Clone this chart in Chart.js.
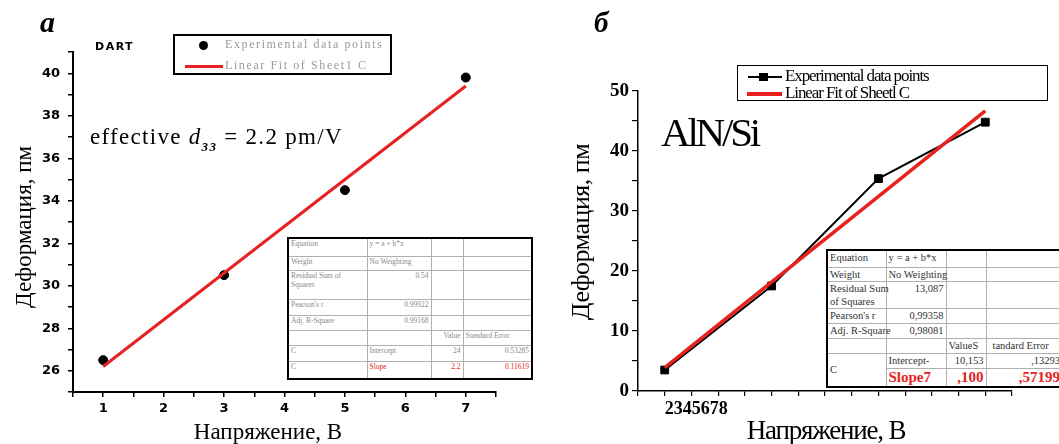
<!DOCTYPE html>
<html>
<head>
<meta charset="utf-8">
<script src="https://cdn.jsdelivr.net/npm/chart.js@4.4.1/dist/chart.umd.min.js"></script>
<style>
body { margin: 0; background: #fff; }
#wrap { position: relative; width: 1059px; height: 444px; overflow: hidden; font-family: "Liberation Serif", serif; color: #000; }
canvas { position: absolute; top: 0; }
.t { position: absolute; white-space: nowrap; line-height: 1; z-index: 2; }
.c { transform: translate(-50%, -50%); }
.rot { transform: translate(-50%, -50%) rotate(-90deg); }
.box { position: absolute; box-sizing: border-box; border: 2px solid #000; background: #fff; z-index: 2; }
.tab { position: absolute; border-collapse: collapse; table-layout: fixed; background: #fff; z-index: 2; }
.tab td { border: 1px solid #b0b0b0; padding: 0 2px; vertical-align: top; white-space: nowrap; overflow: visible; }
.tab td.r { text-align: right; }
#tabA { left: 287px; top: 237px; width: 244px; border: 2px solid #000; font-size: 7.5px; line-height: 9px; color: #8a8a8a; }
#tabA .red td.k { color: #e82020; }
#tabB { left: 826px; top: 249px; width: 236px; border: 2px solid #000; font-size: 10.5px; line-height: 13px; color: #333; }
#tabB .red { color: #e82020; font-weight: bold; font-size: 15px; line-height: 17px; }
</style>
</head>
<body>
<div id="wrap">
<canvas id="chartA" width="540" height="444" style="left:0"></canvas>
<canvas id="chartB" width="519" height="444" style="left:540px"></canvas>

<!-- panel a -->
<div class="t" style="left:40px;top:7px;font-size:30px;font-weight:bold;font-style:italic;">a</div>
<div class="t" style="left:95px;top:41px;font-family:'DejaVu Sans';font-size:11px;font-weight:bold;letter-spacing:1.5px;">DART</div>
<div class="box" style="left:173px;top:34px;width:219px;height:41px;"></div>
<div class="t" style="left:198.5px;top:40.5px;width:9.5px;height:9.5px;border-radius:50%;background:#000;"></div>
<div class="t" style="left:225px;top:38px;font-size:12px;letter-spacing:1.6px;color:#9a9a9a;">Experimental data points</div>
<div class="t" style="left:185px;top:64.5px;width:38px;height:3px;background:#e82020;"></div>
<div class="t" style="left:225px;top:59px;font-size:12px;letter-spacing:1.6px;color:#9a9a9a;">Linear Fit of Sheet1 C</div>
<div class="t" style="left:90px;top:125px;font-size:23px;letter-spacing:1.3px;">effective <i>d</i><sub style="font-size:13px;font-weight:bold;font-style:italic;vertical-align:-7px;">33</sub> = 2.2 pm/V</div>
<div class="t rot" style="left:23px;top:227px;font-size:23px;">Деформация, пм</div>
<div class="t c" style="left:268px;top:431px;font-size:23px;">Напряжение, В</div>

<table id="tabA" class="tab">
<colgroup><col style="width:79px"><col style="width:64px"><col style="width:32px"><col style="width:69px"></colgroup>
<tr style="height:18px"><td>Equation</td><td>y = a + b*x</td><td></td><td></td></tr>
<tr style="height:14px"><td>Weight</td><td>No Weighting</td><td></td><td></td></tr>
<tr style="height:29px"><td>Residual Sum of<br>Squares</td><td class="r">0.54</td><td></td><td></td></tr>
<tr style="height:16px"><td>Pearson's r</td><td class="r">0.99922</td><td></td><td></td></tr>
<tr style="height:15px"><td>Adj. R-Square</td><td class="r">0.99168</td><td></td><td></td></tr>
<tr style="height:15px"><td></td><td></td><td class="r">Value</td><td>Standard Error</td></tr>
<tr style="height:16px"><td>C</td><td>Intercept</td><td class="r">24</td><td class="r">0.53285</td></tr>
<tr style="height:18px" class="red"><td>C</td><td class="k">Slope</td><td class="r k">2.2</td><td class="r k">0.11619</td></tr>
</table>

<!-- panel b -->
<div class="t" style="left:594px;top:8px;font-size:29px;font-weight:bold;font-style:italic;">б</div>
<div class="box" style="left:737px;top:65px;width:311px;height:36px;border-width:1.5px;"></div>
<div class="t" style="left:748px;top:75.7px;width:34px;height:2px;background:#000;"></div>
<div class="t" style="left:759px;top:72.5px;width:8.5px;height:8.5px;background:#000;"></div>
<div class="t" style="left:785px;top:67px;font-size:17px;letter-spacing:-1.1px;">Experimental data points</div>
<div class="t" style="left:747px;top:92.3px;width:35px;height:4px;background:#e82020;"></div>
<div class="t" style="left:785px;top:84px;font-size:17px;letter-spacing:-1.1px;">Linear Fit of Sheetl C</div>
<div class="t" style="left:661px;top:112px;font-size:41px;letter-spacing:-3.2px;">AlN/Si</div>
<div class="t rot" style="left:581px;top:232px;font-size:26px;letter-spacing:-0.5px;">Деформация, пм</div>
<div class="t c" style="left:826px;top:430px;font-size:27px;letter-spacing:-1.2px;">Напряжение, В</div>

<table id="tabB" class="tab">
<colgroup><col style="width:59px"><col style="width:60px"><col style="width:40px"><col style="width:77px"></colgroup>
<tr style="height:17px"><td>Equation</td><td>y = a + b*x</td><td></td><td></td></tr>
<tr style="height:13px"><td>Weight</td><td>No Weighting</td><td></td><td></td></tr>
<tr style="height:27px"><td>Residual Sum<br>of Squares</td><td class="r">13,087</td><td></td><td></td></tr>
<tr style="height:15px"><td>Pearson's r</td><td class="r">0,99358</td><td></td><td></td></tr>
<tr style="height:15px"><td>Adj. R-Square</td><td class="r">0,98081</td><td></td><td></td></tr>
<tr style="height:15px"><td></td><td></td><td>ValueS</td><td style="padding-left:6px">tandard Error</td></tr>
<tr style="height:15px"><td rowspan="2" style="vertical-align:middle">C</td><td>Intercept-</td><td class="r">10,153</td><td class="r">,13293</td></tr>
<tr style="height:18px" class="red"><td>Slope7</td><td class="r">,100</td><td class="r">,57199</td></tr>
</table>
</div>

<script>
// panel a: DART
const voltA = [1, 3, 5, 7];
const defA = [26.5, 30.5, 34.5, 39.8];
const fitVoltA = [1, 7];
const fitDefA = [26.2, 39.4];
const xTicksA = [1, 2, 3, 4, 5, 6, 7];
const yTicksA = [26, 28, 30, 32, 34, 36, 38, 40];

// panel b: AlN/Si
const voltB = [1, 3, 5, 7];
const defB = [3.5, 17.5, 35.4, 44.8];
const fitVoltB = [1, 7];
const fitDefB = [3.9, 46.7];
const xTickLabelB = '2345678';
const yTicksB = [0, 10, 20, 30, 40, 50];

const red = '#e82020';
const pts = (xs, ys) => xs.map((x, i) => ({ x: x, y: ys[i] }));
const near = (arr, v) => arr.some(a => Math.abs(a - v) < 1e-6);

function axis(opts) {
    return Object.assign({
        type: 'linear',
        grid: { drawOnChartArea: false, drawTicks: true, color: '#000', lineWidth: 1.5 },
        border: { display: true, color: '#000', width: 2 },
    }, opts);
}

new Chart(document.getElementById('chartA'), {
    type: 'scatter',
    data: {
        datasets: [
            { type: 'line', data: pts(fitVoltA, fitDefA), borderColor: red, borderWidth: 3, pointRadius: 0, fill: false },
            { data: pts(voltA, defA), backgroundColor: '#000', borderColor: '#000', pointRadius: 4.5, showLine: false },
        ],
    },
    options: {
        responsive: false,
        animation: false,
        layout: { padding: { top: 52, right: 44, left: 0, bottom: 0 } },
        plugins: { legend: { display: false }, tooltip: { enabled: false } },
        scales: {
            x: axis({
                min: 0.5, max: 7.5,
                afterFit: s => { s.height = 52; },
                grid: { drawOnChartArea: false, color: '#000', lineWidth: 1.5, tickLength: 5 },
                ticks: {
                    stepSize: 0.5, autoSkip: false, maxRotation: 0, minRotation: 0, padding: 4,
                    color: '#000', font: { family: 'DejaVu Sans', size: 13, weight: 'bold' },
                    callback: v => near(xTicksA, v) ? String(Math.round(v)) : '',
                },
            }),
            y: axis({
                min: 25, max: 41,
                afterFit: s => { s.width = 73; },
                grid: { drawOnChartArea: false, color: '#000', lineWidth: 1.5, tickLength: 5 },
                ticks: {
                    stepSize: 1, autoSkip: false, padding: 8,
                    color: '#000', font: { family: 'DejaVu Sans', size: 13, weight: 'bold' },
                    callback: v => near(yTicksA, v) ? String(v) : '',
                },
            }),
        },
    },
});

new Chart(document.getElementById('chartB'), {
    type: 'scatter',
    data: {
        datasets: [
            { type: 'line', data: pts(fitVoltB, fitDefB), borderColor: red, borderWidth: 3.5, pointRadius: 0, fill: false },
            { type: 'line', data: pts(voltB, defB), borderColor: '#000', borderWidth: 2, backgroundColor: '#000',
              pointStyle: 'rect', pointRadius: 5.5, pointBorderWidth: 1, fill: false },
        ],
    },
    options: {
        responsive: false,
        animation: false,
        layout: { padding: { top: 91, right: 47, left: 0, bottom: 0 } },
        plugins: { legend: { display: false }, tooltip: { enabled: false } },
        scales: {
            x: axis({
                min: 0.5, max: 7.5,
                afterFit: s => { s.height = 53; },
                border: { display: true, color: '#000', width: 1.5 },
                grid: { drawOnChartArea: false, color: '#000', lineWidth: 1.2, tickLength: 5 },
                ticks: {
                    stepSize: 0.5, autoSkip: false, maxRotation: 0, minRotation: 0, padding: 3, align: 'start',
                    color: '#000', font: { family: 'Liberation Serif', size: 18, weight: 'bold' },
                    callback: v => Math.abs(v - 1) < 1e-6 ? xTickLabelB : '',
                },
            }),
            y: axis({
                min: 0, max: 50,
                afterFit: s => { s.width = 98; },
                border: { display: true, color: '#000', width: 1.5 },
                grid: { drawOnChartArea: false, color: '#000', lineWidth: 1.2, tickLength: 6 },
                ticks: {
                    stepSize: 5, autoSkip: false, padding: 3,
                    color: '#000', font: { family: 'Liberation Serif', size: 19, weight: 'bold' },
                    callback: v => near(yTicksB, v) ? String(v) : '',
                },
            }),
        },
    },
});
</script>
</body>
</html>
